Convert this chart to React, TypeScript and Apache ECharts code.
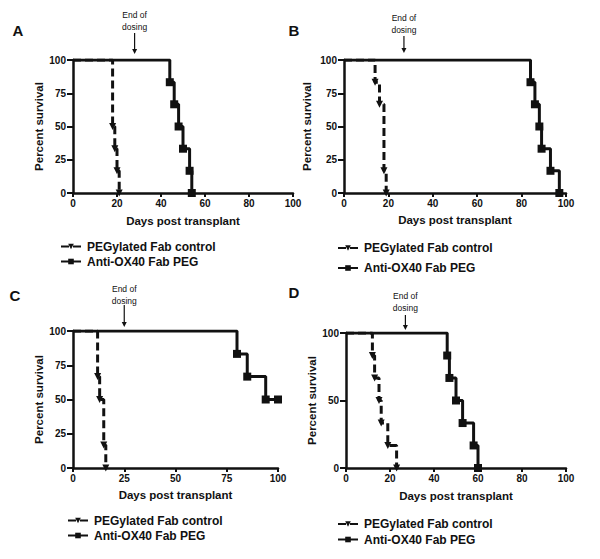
import React, { useEffect, useRef } from "react";
import * as echarts from "echarts";

// ---- Data (Kaplan-Meier steps: day, percent survival) ----
const panelLabels = ["A", "B", "C", "D"];
const seriesNames = ["PEGylated Fab control", "Anti-OX40 Fab PEG"];

const ctrlDaysA = [0, 18, 19, 20, 21];
const ctrlSurvA = [100, 50, 33.3, 16.7, 0];
const antiDaysA = [0, 44, 46, 48, 50, 53, 54];
const antiSurvA = [100, 83.3, 66.7, 50, 33.3, 16.7, 0];

const ctrlDaysB = [0, 14, 16, 18, 19];
const ctrlSurvB = [100, 83.3, 66.7, 16.7, 0];
const antiDaysB = [0, 84, 86, 88, 89, 93, 97];
const antiSurvB = [100, 83.3, 66.7, 50, 33.3, 16.7, 0];

const ctrlDaysC = [0, 12, 13, 15, 16];
const ctrlSurvC = [100, 66.7, 50, 16.7, 0];
const antiDaysC = [0, 80, 85, 94, 100];
const antiSurvC = [100, 83.3, 66.7, 50, 50];

const ctrlDaysD = [0, 12, 13, 15, 16, 19, 23];
const ctrlSurvD = [100, 83.3, 66.7, 50, 33.3, 16.7, 0];
const antiDaysD = [0, 46, 47, 50, 53, 58, 60];
const antiSurvD = [100, 83.3, 66.7, 50, 33.3, 16.7, 0];

const endOfDosingDay = [28, 27, 25, 27];
const xTickStep = [20, 20, 25, 20];
const yTickStep = [25, 25, 25, 50];

const FONT = "'Liberation Sans', Arial, sans-serif";
const INK = "#111";

const ctrlDays = [ctrlDaysA, ctrlDaysB, ctrlDaysC, ctrlDaysD];
const ctrlSurv = [ctrlSurvA, ctrlSurvB, ctrlSurvC, ctrlSurvD];
const antiDays = [antiDaysA, antiDaysB, antiDaysC, antiDaysD];
const antiSurv = [antiSurvA, antiSurvB, antiSurvC, antiSurvD];

// layout
const grids = [
  { left: 73, top: 60, width: 220, height: 133 },
  { left: 344, top: 60, width: 222, height: 133 },
  { left: 73, top: 331, width: 205, height: 137 },
  { left: 346, top: 333, width: 220, height: 135 },
];
const yNameGap = [27, 31, 25, 28];
const xNameGap = [22, 21, 21, 22];
const legendPos = [
  { left: 60, top: 240.5, itemGap: 3 },
  { left: 337, top: 242, itemGap: 8 },
  { left: 67, top: 514.5, itemGap: 3 },
  { left: 337, top: 518, itemGap: 3.5 },
];
const labelPos = [
  [18, 30],
  [294, 30],
  [15, 295],
  [294, 292],
];
// offsets above the 100% line: [End of, dosing, arrowTop, arrowBottom]
const dosingOffsets = [
  [45, 33, 27, 6],
  [42, 30, 24, 7],
  [42, 30, 26, 4],
  [37, 25, 18, 3],
];

function buildPoints(days: number[], surv: number[]) {
  return days.map((d, i) =>
    i === 0 ? { value: [d, surv[i]], symbol: "none" } : { value: [d, surv[i]] }
  );
}

export default function App() {
  const ref = useRef<HTMLDivElement>(null);
  useEffect(() => {
    if (!ref.current) return;
    const chart = echarts.init(ref.current, undefined, { renderer: "svg" });

    const axisCommon = {
      type: "value" as const,
      min: 0,
      max: 100,
      splitLine: { show: false },
      axisLine: { show: true, lineStyle: { color: INK, width: 2.5 } },
      axisTick: { show: true, lineStyle: { color: INK, width: 2 } },
      axisLabel: {
        color: INK,
        fontSize: 10,
        fontWeight: "bold" as const,
        fontFamily: FONT,
      },
      nameTextStyle: {
        color: INK,
        fontSize: 11.5,
        fontWeight: "bold" as const,
        fontFamily: FONT,
      },
      nameLocation: "middle" as const,
    };

    const xAxis = grids.map((_, i) => ({
      ...axisCommon,
      gridIndex: i,
      interval: xTickStep[i],
      name: "Days post transplant",
      nameGap: xNameGap[i],
      axisTick: { ...axisCommon.axisTick, length: 4 },
      axisLabel: { ...axisCommon.axisLabel, margin: 5 },
    }));
    const yAxis = grids.map((_, i) => ({
      ...axisCommon,
      gridIndex: i,
      interval: yTickStep[i],
      name: "Percent survival",
      nameGap: yNameGap[i],
      axisTick: { ...axisCommon.axisTick, length: 6 },
      axisLabel: { ...axisCommon.axisLabel, margin: 7 },
    }));

    const series: any[] = [];
    for (let i = 0; i < 4; i++) {
      series.push({
        type: "line",
        name: seriesNames[0],
        xAxisIndex: i,
        yAxisIndex: i,
        step: "end",
        data: buildPoints(ctrlDays[i], ctrlSurv[i]),
        symbol: "triangle",
        symbolRotate: 180,
        symbolSize: 7,
        itemStyle: { color: INK },
        lineStyle: { color: INK, width: 3, type: [8, 4] },
        z: 2,
      });
      series.push({
        type: "line",
        name: seriesNames[1],
        xAxisIndex: i,
        yAxisIndex: i,
        step: "end",
        data: buildPoints(antiDays[i], antiSurv[i]),
        symbol: "rect",
        symbolSize: 8,
        itemStyle: { color: INK },
        lineStyle: { color: INK, width: 3 },
        z: 3,
      });
    }

    const legend = legendPos.map((p) => ({
      orient: "vertical" as const,
      left: p.left,
      top: p.top,
      padding: 0,
      itemGap: p.itemGap,
      itemWidth: 20,
      itemHeight: 7,
      selectedMode: false,
      data: [seriesNames[0], seriesNames[1]],
      textStyle: {
        color: INK,
        fontSize: 12,
        fontWeight: "bold" as const,
        fontFamily: FONT,
        padding: [0, 0, 0, 1],
      },
    }));

    chart.setOption({
      animation: false,
      backgroundColor: "#fff",
      grid: grids.map((g) => ({ ...g, containLabel: false })),
      xAxis,
      yAxis,
      series,
      legend,
    });

    const graphic: any[] = [];
    for (let i = 0; i < 4; i++) {
      const [px, py] = chart.convertToPixel({ gridIndex: i }, [
        endOfDosingDay[i],
        100,
      ]) as number[];
      const off = dosingOffsets[i];
      graphic.push({
        type: "text",
        x: px,
        y: py - off[0],
        style: {
          text: "End of",
          fill: INK,
          font: `8.5px ${FONT}`,
          textAlign: "center",
          textVerticalAlign: "middle",
        },
      });
      graphic.push({
        type: "text",
        x: px,
        y: py - off[1],
        style: {
          text: "dosing",
          fill: INK,
          font: `8.5px ${FONT}`,
          textAlign: "center",
          textVerticalAlign: "middle",
        },
      });
      graphic.push({
        type: "line",
        shape: { x1: px, y1: py - off[2], x2: px, y2: py - off[3] - 3 },
        style: { stroke: INK, lineWidth: 1.2 },
      });
      graphic.push({
        type: "polygon",
        shape: {
          points: [
            [px - 2.5, py - off[3] - 5],
            [px + 2.5, py - off[3] - 5],
            [px, py - off[3]],
          ],
        },
        style: { fill: INK },
      });
      graphic.push({
        type: "text",
        x: labelPos[i][0],
        y: labelPos[i][1],
        style: {
          text: panelLabels[i],
          fill: INK,
          font: `bold 15px ${FONT}`,
          textAlign: "center",
          textVerticalAlign: "middle",
        },
      });
    }
    chart.setOption({ graphic });

    return () => chart.dispose();
  }, []);

  return (
    <div
      ref={ref}
      style={{ position: "absolute", left: 0, top: 0, width: 600, height: 559 }}
    />
  );
}
